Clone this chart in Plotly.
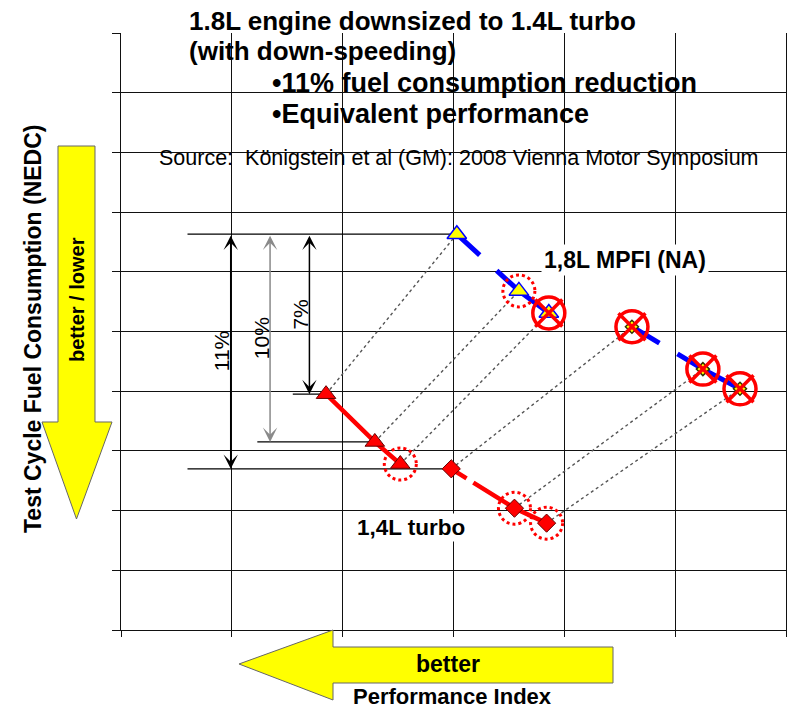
import plotly.graph_objects as go

# ---- figure geometry (pixels) ----
W, H = 787, 709
ML, MR, MT, MB = 121, 1, 33, 79
PW, PH = W - ML - MR, H - MT - MB


def pxx(x):
    """horizontal pixel -> paper coordinate"""
    return (x - ML) / PW


def pxy(y):
    """vertical pixel -> paper coordinate"""
    return (H - MB - y) / PH


FONT = "Liberation Sans, Arial, sans-serif"

# ---- data (performance index, fuel consumption; arbitrary grid units) ----
na_x = [3.03, 3.59, 3.86, 4.61, 5.25, 5.585]
na_y = [6.63, 5.68, 5.31, 5.08, 4.37, 4.04]
na_symbols = ["triangle-up", "triangle-up", "triangle-up", "diamond", "diamond", "diamond"]

turbo_x = [1.85, 2.29, 2.52, 2.98, 3.55, 3.84]
turbo_y = [3.95, 3.15, 2.78, 2.70, 2.04, 1.79]
turbo_symbols = ["triangle-up", "triangle-up", "triangle-up", "diamond", "diamond", "diamond"]

# fuel consumption savings vs. the baseline NA point
saving_labels = ["7%", "10%", "11%"]
saving_turbo_idx = [0, 1, 3]
saving_arrow_x = [1.70, 1.345, 0.99]
saving_line_start = [1.55, 1.23, 0.60]
saving_colors = ["black", "#8a8a8a", "black"]
baseline_line_start = 0.60

# highlighted points
dotted_na = [1]
dotted_turbo = [2, 4, 5]
crossed_na = [2, 3, 4, 5]

fig = go.Figure()

# reference lines for the savings arrows
fig.add_trace(go.Scatter(x=[baseline_line_start, na_x[0]], y=[na_y[0], na_y[0]],
                         mode="lines", line=dict(color="black", width=1.2),
                         hoverinfo="skip", showlegend=False))
for i, k in enumerate(saving_turbo_idx):
    fig.add_trace(go.Scatter(x=[saving_line_start[i], turbo_x[k]], y=[turbo_y[k], turbo_y[k]],
                             mode="lines", line=dict(color="black", width=1.2),
                             hoverinfo="skip", showlegend=False))

# dashed connectors turbo -> NA
cx, cy = [], []
for a, b, c, d in zip(turbo_x, turbo_y, na_x, na_y):
    cx += [a, c, None]
    cy += [b, d, None]
fig.add_trace(go.Scatter(x=cx, y=cy, mode="lines",
                         line=dict(color="#555555", width=1.4, dash="3px,3px"),
                         hoverinfo="skip", showlegend=False))

# NA curve (two pieces)
fig.add_trace(go.Scatter(x=na_x[:3], y=na_y[:3], mode="lines",
                         line=dict(color="#0000ff", width=5, dash="31px,23px,400px"),
                         showlegend=False))
fig.add_trace(go.Scatter(x=na_x[3:], y=na_y[3:], mode="lines",
                         line=dict(color="#0000ff", width=5, dash="32px,21px,400px"),
                         showlegend=False))

# turbo curve (two pieces)
fig.add_trace(go.Scatter(x=turbo_x[:3], y=turbo_y[:3], mode="lines",
                         line=dict(color="#ff0000", width=4.5), showlegend=False))
fig.add_trace(go.Scatter(x=turbo_x[3:], y=turbo_y[3:], mode="lines",
                         line=dict(color="#ff0000", width=4.5, dash="18px,8px,300px"),
                         showlegend=False))

# markers
fig.add_trace(go.Scatter(x=na_x, y=na_y, mode="markers",
                         marker=dict(symbol=na_symbols, color="#ffff00", opacity=1,
                                     size=[17, 17, 17, 10, 10, 10],
                                     line=dict(color=["#0000ff"] * 3 + ["#333300"] * 3, width=1.5)),
                         showlegend=False))
fig.add_trace(go.Scatter(x=turbo_x, y=turbo_y, mode="markers",
                         marker=dict(symbol=turbo_symbols, color="#ff0000", opacity=1,
                                     size=[17, 17, 17, 14, 14, 14],
                                     line=dict(color="#660000", width=1)),
                         showlegend=False))

# crossed circles
xs = [na_x[i] for i in crossed_na]
ys = [na_y[i] for i in crossed_na]
fig.add_trace(go.Scatter(x=xs, y=ys, mode="markers",
                         marker=dict(symbol="circle-open", size=32, color="#ff0000",
                                     line=dict(color="#ff0000", width=3.5)),
                         showlegend=False))
fig.add_trace(go.Scatter(x=xs, y=ys, mode="markers",
                         marker=dict(symbol="x-thin-open", size=27, color="#ff0000",
                                     line=dict(color="#ff0000", width=3.5)),
                         showlegend=False))

shapes = []
# dotted circles
for xv, yv in [(na_x[i], na_y[i]) for i in dotted_na] + [(turbo_x[i], turbo_y[i]) for i in dotted_turbo]:
    shapes.append(dict(type="circle", xref="x", yref="y", xsizemode="pixel", ysizemode="pixel",
                       xanchor=xv, yanchor=yv, x0=-16, x1=16, y0=-16, y1=16,
                       line=dict(color="#ff0000", width=3, dash="dot"), layer="above"))

# white panels behind heading and source
shapes.append(dict(type="rect", xref="paper", yref="paper",
                   x0=pxx(167), x1=pxx(731), y0=pxy(138), y1=pxy(-5),
                   fillcolor="white", line=dict(width=0), layer="between"))
shapes.append(dict(type="rect", xref="paper", yref="paper",
                   x0=pxx(137), x1=pxx(776), y0=pxy(182), y1=pxy(137),
                   fillcolor="white", line=dict(width=0), layer="between"))


def poly(points):
    return "M " + " L ".join(f"{pxx(a):.5f},{pxy(b):.5f}" for a, b in points) + " Z"


# yellow "better" arrows
shapes.append(dict(type="path", xref="paper", yref="paper",
                   path=poly([(58, 146), (95, 146), (95, 422), (112, 422), (76.5, 519),
                              (42, 422), (58, 422)]),
                   fillcolor="#ffff00", line=dict(color="#666666", width=1), layer="above"))
shapes.append(dict(type="path", xref="paper", yref="paper",
                   path=poly([(239, 664), (333, 630), (333, 647), (613, 647), (613, 683),
                              (333, 683), (333, 700)]),
                   fillcolor="#ffff00", line=dict(color="#666666", width=1), layer="above"))

annotations = []


def paper_text(txt, x, y, size, anchor="center", angle=0, bold=False):
    annotations.append(dict(x=pxx(x), y=pxy(y), xref="paper", yref="paper",
                            text=f"<b>{txt}</b>" if bold else txt,
                            xanchor=anchor, yanchor="middle", textangle=angle,
                            showarrow=False, font=dict(family=FONT, size=size, color="black")))


# savings arrows
for i, k in enumerate(saving_turbo_idx):
    annotations.append(dict(x=saving_arrow_x[i], y=turbo_y[k], xref="x", yref="y",
                            ax=saving_arrow_x[i], ay=na_y[0], axref="x", ayref="y",
                            text="", showarrow=True, arrowhead=3, startarrowhead=3,
                            arrowside="end+start", arrowsize=1.6, startarrowsize=1.6,
                            arrowwidth=1.5, arrowcolor=saving_colors[i], standoff=0, startstandoff=0))
    annotations.append(dict(x=saving_arrow_x[i], y=(turbo_y[k] + na_y[0]) / 2, xref="x", yref="y",
                            text=saving_labels[i], showarrow=False, textangle=-90,
                            xanchor="center", yanchor="middle",
                            xshift=-9, font=dict(family=FONT, size=21, color="black")))

# series labels
annotations.append(dict(x=4.55, y=6.20, xref="x", yref="y", text="<b>1,8L MPFI (NA)</b>",
                        showarrow=False, bgcolor="white", borderpad=2,
                        xanchor="center", yanchor="middle",
                        font=dict(family=FONT, size=23, color="black")))
annotations.append(dict(x=2.62, y=1.71, xref="x", yref="y", text="<b>1,4L turbo</b>",
                        showarrow=False, bgcolor="white", borderpad=1,
                        xanchor="center", yanchor="middle",
                        font=dict(family=FONT, size=22.5, color="black")))

# heading
paper_text("1.8L engine downsized to 1.4L turbo", 187, 21, 26, anchor="left", bold=True)
paper_text("(with down-speeding)", 187, 51, 26, anchor="left", bold=True)
paper_text("•11% fuel consumption reduction", 270, 83, 27, anchor="left", bold=True)
paper_text("•Equivalent performance", 270, 114, 27, anchor="left", bold=True)
paper_text("Source:  Königstein et al (GM): 2008 Vienna Motor Symposium", 157, 158, 21.5, anchor="left")

# axis titles and arrow captions
paper_text("Test Cycle Fuel Consumption (NEDC)", 33, 329, 23, angle=-90, bold=True)
paper_text("better / lower", 77, 300, 20, angle=-90, bold=True)
paper_text("better", 448, 664, 23, bold=True)
paper_text("Performance Index", 452, 696, 22, bold=True)

axis_common = dict(showgrid=True, gridcolor="#111111", gridwidth=1.2,
                   showline=True, linecolor="#111111", linewidth=1.3,
                   ticks="outside", tickcolor="#111111", tickwidth=1.2,
                   showticklabels=False, zeroline=False, fixedrange=True)

fig.update_layout(
    width=W, height=H,
    margin=dict(l=ML, r=MR, t=MT, b=MB),
    paper_bgcolor="white", plot_bgcolor="white",
    xaxis=dict(range=[0, 6], dtick=1, tick0=0, ticklen=6, **axis_common),
    yaxis=dict(range=[0, 10], dtick=1, tick0=0, ticklen=8, mirror=True, **axis_common),
    shapes=shapes, annotations=annotations,
    showlegend=False,
)

fig.write_html("out.html", config={"displayModeBar": False})
